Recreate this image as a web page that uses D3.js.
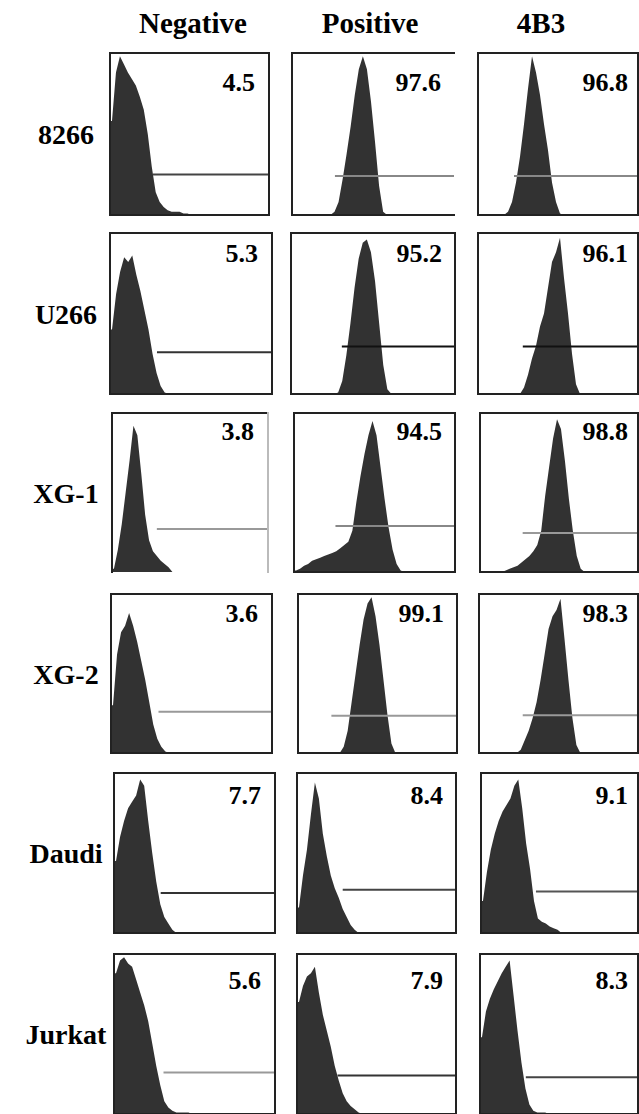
<!DOCTYPE html>
<html>
<head>
<meta charset="utf-8">
<script src="https://cdn.jsdelivr.net/npm/d3@7"></script>
<style>
body { margin: 0; background: #fff; }
svg { display: block; }
text { font-family: "Liberation Serif", "Times New Roman", serif; font-weight: bold; fill: #000; }
</style>
</head>
<body>
<svg id="chart" width="639" height="1114"></svg>
<script>
// markers along the top, cell lines down the side
var markers = ['Negative', 'Positive', '4B3'];
var cellLines = ['8266', 'U266', 'XG-1', 'XG-2', 'Daudi', 'Jurkat'];

// % positive cells written in each panel
var percents = [
	[4.5, 97.6, 96.8],
	[5.3, 95.2, 96.1],
	[3.8, 94.5, 98.8],
	[3.6, 99.1, 98.3],
	[7.7, 8.4, 9.1],
	[5.6, 7.9, 8.3]
];

// histogram counts, 40 channels per panel, as % of the panel's max
var hist8266 = [
	[58,88,98,93,88,84,80,73,65,50,30,14,8,5,3,2,2,2,1,1,0,0,0,0,0,0,0,0,0,0,0,0,0,0,0,0,0,0,0,0],
	[0,0,0,0,0,0,0,0,0,0,2,8,22,38,55,74,90,98,90,70,45,18,2,0,0,0,0,0,0,0,0,0,0,0,0,0,0,0,0,0],
	[0,0,0,0,0,0,0,2,8,20,36,56,78,98,88,74,56,40,20,8,1,0,0,0,0,0,0,0,0,0,0,0,0,0,0,0,0,0,0,0]
];
var histU266 = [
	[40,62,76,85,82,86,74,64,52,40,25,13,5,1,0,0,0,0,0,0,0,0,0,0,0,0,0,0,0,0,0,0,0,0,0,0,0,0,0,0],
	[0,0,0,0,0,0,0,0,0,0,0,1,8,24,44,66,84,94,96,88,70,44,18,3,0,0,0,0,0,0,0,0,0,0,0,0,0,0,0,0],
	[0,0,0,0,0,0,0,0,0,0,0,4,12,22,30,42,50,66,82,88,97,72,50,25,6,0,0,0,0,0,0,0,0,0,0,0,0,0,0,0]
];
var histXG1 = [
	[2,14,30,50,70,92,86,62,36,20,13,10,7,5,3,0,0,0,0,0,0,0,0,0,0,0,0,0,0,0,0,0,0,0,0,0,0,0,0,0],
	[1,2,4,5,7,8,9,10,11,12,13,15,17,19,26,44,60,74,86,95,86,66,46,28,14,5,1,0,0,0,0,0,0,0,0,0,0,0,0,0],
	[0,0,0,0,0,0,1,2,3,4,6,8,10,13,17,26,48,66,84,96,90,70,46,26,10,2,0,0,0,0,0,0,0,0,0,0,0,0,0,0]
];
var histXG2 = [
	[30,62,76,80,88,80,70,58,46,32,18,9,4,1,0,0,0,0,0,0,0,0,0,0,0,0,0,0,0,0,0,0,0,0,0,0,0,0,0,0],
	[0,0,0,0,0,0,0,0,0,0,0,4,14,32,50,68,84,94,98,86,68,46,24,6,0,0,0,0,0,0,0,0,0,0,0,0,0,0,0,0],
	[0,0,0,0,0,0,0,0,0,0,2,8,14,22,32,46,62,78,86,90,97,72,46,22,5,0,0,0,0,0,0,0,0,0,0,0,0,0,0,0]
];
var histDaudi = [
	[45,60,70,78,82,86,96,92,70,50,32,18,10,6,2,0,0,0,0,0,0,0,0,0,0,0,0,0,0,0,0,0,0,0,0,0,0,0,0,0],
	[16,36,52,74,94,84,62,48,36,28,22,15,10,5,2,0,0,0,0,0,0,0,0,0,0,0,0,0,0,0,0,0,0,0,0,0,0,0,0,0],
	[20,38,52,62,70,76,80,84,92,96,78,56,40,20,9,7,6,4,3,2,0,0,0,0,0,0,0,0,0,0,0,0,0,0,0,0,0,0,0,0]
];
var histJurkat = [
	[88,96,98,94,92,84,76,68,58,44,30,18,8,4,2,1,1,1,1,0,0,0,0,0,0,0,0,0,0,0,0,0,0,0,0,0,0,0,0,0],
	[70,80,86,88,92,76,62,52,42,30,21,13,8,5,3,1,0,0,0,0,0,0,0,0,0,0,0,0,0,0,0,0,0,0,0,0,0,0,0,0],
	[48,64,72,78,83,88,92,96,74,52,32,16,6,2,1,1,1,0,0,0,0,0,0,0,0,0,0,0,0,0,0,0,0,0,0,0,0,0,0,0]
];
var histograms = [hist8266, histU266, histXG1, histXG2, histDaudi, histJurkat];

// gate marker: first channel and level
var gateStart = [
	[10.8, 10.6, 9.0],
	[11.6, 12.4, 11.2],
	[11.5, 10.3, 10.8],
	[11.8, 8.4, 11.0],
	[11.6, 11.5, 14.0],
	[12.3, 10.2, 11.6]
];
var gateLevel = [
	[25, 24, 24],
	[26, 29.5, 29.5],
	[27, 29, 24.6],
	[26, 23.5, 23.7],
	[25, 27, 26],
	[26, 24, 23]
];

// layout (the panels were pasted by hand, so they wander a little)
var panelX = [
	[110, 292, 478],
	[110, 291, 478],
	[112, 294, 480],
	[111, 298, 479],
	[114, 297, 481],
	[114, 297, 480]
];
var panelW = [
	[159, 162, 160],
	[162, 164, 160],
	[156, 161, 158],
	[161, 159, 159],
	[161, 159, 157],
	[161, 159, 158]
];
var rowY = [53, 233, 413, 594, 773, 954];
var rowH = [162, 161, 159, 159, 160, 160];
var headX = [193, 370, 541];
var numInset = [14, 13, 10];
var numBase = [38, 29, 27, 28, 31, 35];
var gateColour = [
	['#444', '#888', '#888'],
	['#333', '#111', '#111'],
	['#999', '#888', '#999'],
	['#999', '#999', '#999'],
	['#333', '#444', '#555'],
	['#999', '#333', '#444']
];

// frame sides that differ from the usual dark border: [top, right, bottom, left]
function frameColours(r, c)
{
	var s = ['#222', '#222', '#222', '#222'];
	if (r == 0 && c == 1) s[1] = 'none';
	if (r == 2 && c == 0) { s[1] = '#bbb'; s[2] = 'none'; }
	return s;
}

var svg = d3.select('#chart');

svg.selectAll('text.head').data(markers).enter().append('text')
	.attr('class', 'head')
	.attr('x', (d, i) => headX[i])
	.attr('y', 33)
	.attr('text-anchor', 'middle')
	.style('font-size', '29px')
	.text(d => d);

svg.selectAll('text.row').data(cellLines).enter().append('text')
	.attr('class', 'row')
	.attr('x', 66)
	.attr('y', (d, i) => rowY[i] + rowH[i] / 2 + 10)
	.attr('text-anchor', 'middle')
	.style('font-size', '28px')
	.text(d => d);

function drawPanel(r, c)
{
	var w = panelW[r][c];
	var h = rowH[r];
	var counts = histograms[r][c];
	var x = d3.scaleLinear().domain([0, counts.length]).range([0, w]);
	var y = d3.scaleLinear().domain([0, 100]).range([h, 0]);

	var g = svg.append('g').attr('transform', 'translate(' + panelX[r][c] + ',' + rowY[r] + ')');

	var pts = [[0, counts[0]]];
	counts.forEach((v, i) => pts.push([i + 0.5, v]));
	pts.push([counts.length, counts[counts.length - 1]]);

	var area = d3.area()
		.x(d => x(d[0]))
		.y0(h)
		.y1(d => y(d[1]));

	g.append('path')
		.attr('d', area(pts))
		.attr('fill', '#323232');

	g.append('line')
		.attr('x1', x(gateStart[r][c]))
		.attr('x2', w)
		.attr('y1', y(gateLevel[r][c]))
		.attr('y2', y(gateLevel[r][c]))
		.attr('stroke', gateColour[r][c])
		.attr('stroke-width', 2);

	var sides = [[0, 0, w, 0], [w, 0, w, h], [0, h, w, h], [0, 0, 0, h]];
	var cols = frameColours(r, c);
	g.selectAll('line.frame').data(sides).enter().append('line')
		.attr('class', 'frame')
		.attr('x1', d => d[0]).attr('y1', d => d[1])
		.attr('x2', d => d[2]).attr('y2', d => d[3])
		.attr('stroke', (d, i) => cols[i])
		.attr('stroke-width', 2)
		.attr('stroke-linecap', 'square');

	g.append('text')
		.attr('x', w - numInset[c])
		.attr('y', numBase[r])
		.attr('text-anchor', 'end')
		.style('font-size', '26px')
		.text(percents[r][c]);
}

for (var r = 0; r < cellLines.length; r++)
{
	for (var c = 0; c < markers.length; c++)
	{
		drawPanel(r, c);
	}
}
</script>
</body>
</html>
